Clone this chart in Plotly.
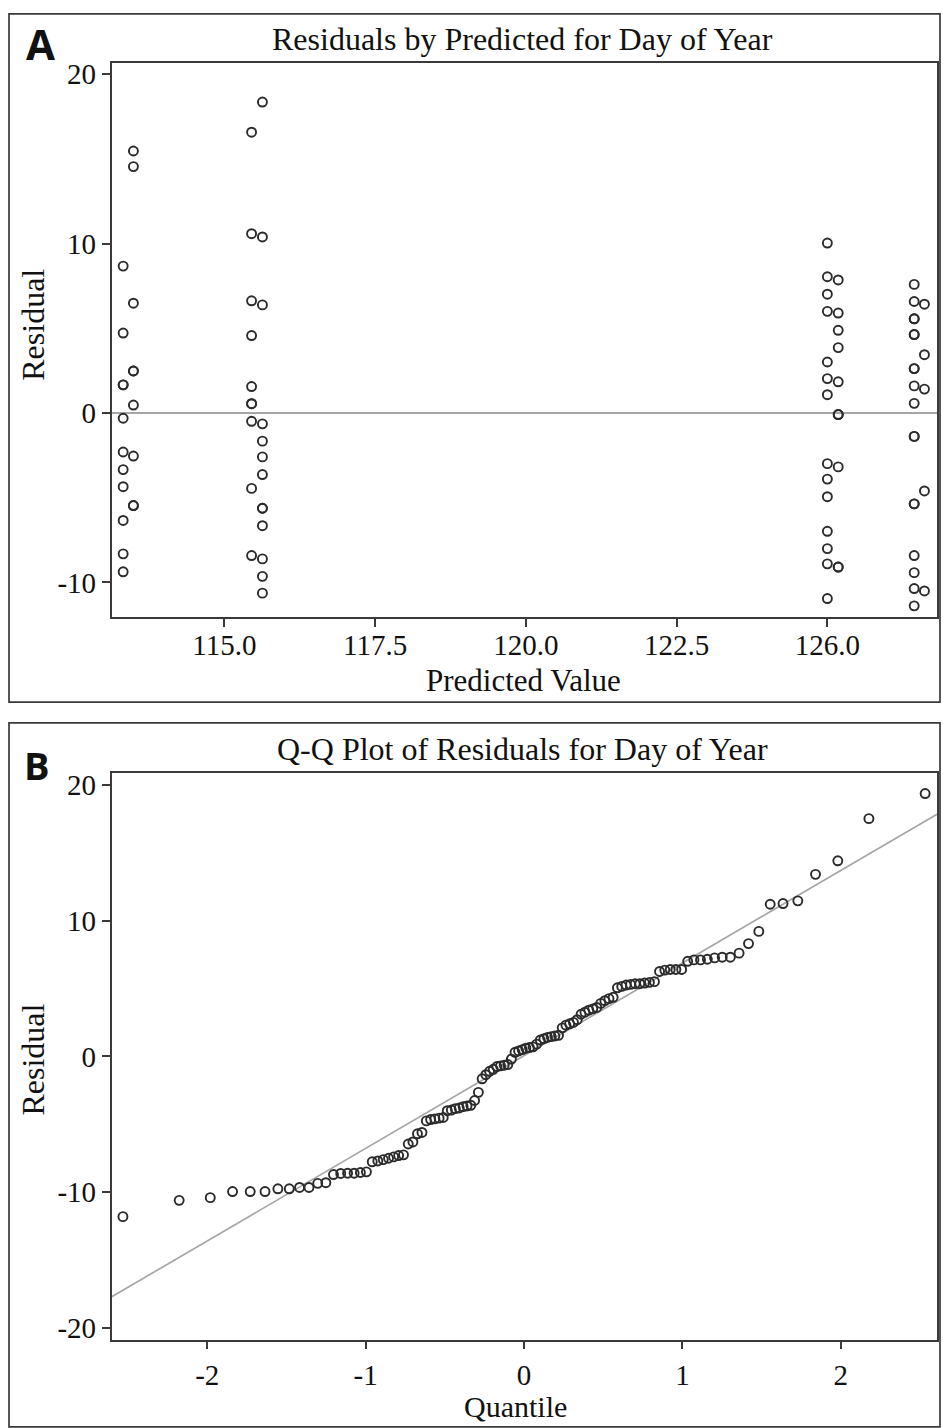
import plotly.graph_objects as go
from statistics import NormalDist

# ---------------- Data ----------------
# Panel A: residuals by predicted value
pred_value = [
    113.49, 113.49, 113.32, 113.49, 113.32, 113.49, 113.49, 113.32, 113.32, 113.49,
    113.32, 113.32, 113.49, 113.32, 113.32, 113.49, 113.49, 113.32, 113.32, 113.32,
    115.63, 115.45, 115.45, 115.63, 115.45, 115.63, 115.45, 115.45, 115.45, 115.45,
    115.45, 115.63, 115.63, 115.63, 115.63, 115.45, 115.63, 115.63, 115.63, 115.45,
    115.63, 115.63, 115.63,
    125.00, 125.00, 125.18, 125.00, 125.00, 125.18, 125.18, 125.18, 125.00, 125.00,
    125.18, 125.00, 125.18, 125.18, 125.00, 125.18, 125.00, 125.00, 125.00, 125.00,
    125.00, 125.18, 125.18, 125.00,
    126.44, 126.44, 126.61, 126.44, 126.44, 126.44, 126.44, 126.61, 126.44, 126.44,
    126.44, 126.61, 126.44, 126.44, 126.44, 126.61, 126.44, 126.44, 126.44, 126.44,
    126.44, 126.61, 126.44,
]
residual = [
    15.46, 14.54, 8.67, 6.48, 4.72, 2.48, 2.48, 1.66, 1.66, 0.47,
    -0.31, -2.30, -2.54, -3.34, -4.35, -5.46, -5.46, -6.34, -8.31, -9.37,
    18.35, 16.57, 10.58, 10.39, 6.62, 6.38, 4.57, 1.56, 0.55, 0.55,
    -0.49, -0.64, -1.66, -2.59, -3.63, -4.45, -5.62, -5.62, -6.65, -8.41,
    -8.61, -9.64, -10.63,
    10.03, 8.04, 7.85, 7.01, 6.00, 5.90, 4.88, 3.86, 3.01, 2.03,
    1.84, 1.08, -0.09, -0.09, -2.99, -3.18, -3.90, -4.94, -6.98, -8.00,
    -8.90, -9.09, -9.09, -10.95,
    7.59, 6.58, 6.42, 5.56, 5.56, 4.63, 4.63, 3.44, 2.62, 2.62,
    1.60, 1.41, 0.57, -1.38, -1.38, -4.60, -5.36, -5.36, -8.41, -9.42,
    -10.36, -10.50, -11.38,
]
a_xtick_vals = [115.0, 117.5, 120.0, 122.5, 125.0]
a_xtick_text = ["115.0", "117.5", "120.0", "122.5", "126.0"]
a_ytick_vals = [-10, 0, 10, 20]
a_ytick_text = ["-10", "0", "10", "20"]

# Panel B: sorted residuals for the Q-Q plot
qq_residual_sorted = [
    -11.8, -10.6, -10.4, -9.95, -9.95, -9.95, -9.75, -9.75, -9.65, -9.65,
    -9.35, -9.3, -8.7, -8.62, -8.6, -8.6, -8.55, -8.5, -7.76, -7.7,
    -7.6, -7.5, -7.4, -7.3, -7.25, -6.45, -6.3, -5.7, -5.6, -4.75,
    -4.65, -4.6, -4.55, -4.5, -4.0, -3.95, -3.85, -3.8, -3.7, -3.65,
    -3.6, -3.25, -2.65, -1.65, -1.35, -1.1, -0.95, -0.75, -0.7, -0.65,
    -0.6, -0.2, 0.3, 0.4, 0.5, 0.6, 0.65, 0.7, 0.9, 1.2,
    1.3, 1.4, 1.45, 1.5, 1.55, 2.1, 2.3, 2.4, 2.5, 2.7,
    3.1, 3.25, 3.4, 3.5, 3.6, 3.9, 4.1, 4.25, 4.35, 5.05,
    5.15, 5.25, 5.3, 5.35, 5.35, 5.4, 5.45, 5.5, 6.25, 6.35,
    6.4, 6.4, 6.4, 7.0, 7.1, 7.1, 7.15, 7.25, 7.3, 7.3,
    7.6, 8.3, 9.2, 11.2, 11.25, 11.45, 13.4, 14.4, 17.5, 19.35,
]
qq_line_mean = 0.05
qq_line_sigma = 6.82
b_xtick_vals = [-2, -1, 0, 1, 2]
b_xtick_text = ["-2", "-1", "0", "1", "2"]
b_ytick_vals = [-20, -10, 0, 10, 20]
b_ytick_text = ["-20", "-10", "0", "10", "20"]

# Theoretical normal quantiles (Blom) for the sorted residuals
n = len(qq_residual_sorted)
nd = NormalDist()
qq_quantile = [nd.inv_cdf((i + 1 - 0.375) / (n + 0.25)) for i in range(n)]

# ---------------- Layout geometry (pixels) ----------------
W, H = 943, 1428
def px(x):
    return x / W
def py(y):
    return 1 - y / H

A_range_x = [113.13, 126.81]
A_range_y = [-12.06, 20.66]
B_range_x = [-2.603, 2.607]
B_range_y = [-20.85, 20.87]

serif = "Liberation Serif, Times New Roman, serif"
frame_col = "#3a3a3a"
mark_col = "#2b2b2b"
ref_col = "#a6a6a6"
tick_font = dict(family=serif, size=29, color="#111")

fig = go.Figure()

marker_style = dict(symbol="circle-open", size=9, color=mark_col,
                    line=dict(width=1.9, color=mark_col))

fig.add_trace(go.Scatter(
    x=pred_value, y=residual, mode="markers", marker=marker_style,
    xaxis="x", yaxis="y", showlegend=False, hoverinfo="skip"))

line_x = [B_range_x[0], B_range_x[1]]
line_y = [qq_line_mean + qq_line_sigma * v for v in line_x]
fig.add_trace(go.Scatter(
    x=line_x, y=line_y, mode="lines", line=dict(color=ref_col, width=1.7),
    xaxis="x2", yaxis="y2", showlegend=False, hoverinfo="skip"))
fig.add_trace(go.Scatter(
    x=qq_quantile, y=qq_residual_sorted, mode="markers", marker=marker_style,
    xaxis="x2", yaxis="y2", showlegend=False, hoverinfo="skip"))

axis_common = dict(showline=True, mirror=True, linecolor=frame_col, linewidth=1.7,
                   ticks="outside", ticklen=8, tickwidth=1.6, tickcolor=frame_col,
                   showgrid=False, tickfont=tick_font, fixedrange=True)

fig.update_layout(
    width=W, height=H, margin=dict(l=0, r=0, t=0, b=0),
    paper_bgcolor="white", plot_bgcolor="white",
    xaxis=dict(domain=[px(111.7), px(936.5)], anchor="y", range=A_range_x,
               tickvals=a_xtick_vals, ticktext=a_xtick_text, zeroline=False,
               ticklabelstandoff=-7, **axis_common),
    yaxis=dict(domain=[py(616.7), py(58.3)], anchor="x", range=A_range_y,
               tickvals=a_ytick_vals, ticktext=a_ytick_text,
               zeroline=True, zerolinecolor=ref_col, zerolinewidth=1.7, **axis_common),
    xaxis2=dict(domain=[px(111.7), px(937)], anchor="y2", range=B_range_x,
                tickvals=b_xtick_vals, ticktext=b_xtick_text, zeroline=False,
                ticklabelstandoff=1, **axis_common),
    yaxis2=dict(domain=[py(1344), py(773.3)], anchor="x2", range=B_range_y,
                tickvals=b_ytick_vals, ticktext=b_ytick_text, zeroline=False, **axis_common),
)

# Outer panel boxes (panel B's box runs past the bottom edge of the picture)
for (x0, y0, x1, y1) in [(9, 9, 940, 702), (9, 723, 940, 1432)]:
    fig.add_shape(type="rect", xref="paper", yref="paper",
                  x0=px(x0), x1=px(x1), y0=py(y1), y1=py(y0),
                  line=dict(color=frame_col, width=1.7), fillcolor="rgba(0,0,0,0)", layer="above")

def ann(text, x, y, size, family=serif, bold=False, angle=0):
    fig.add_annotation(text=f"<b>{text}</b>" if bold else text,
                       x=px(x), y=py(y), xref="paper", yref="paper",
                       xanchor="center", yanchor="middle", showarrow=False,
                       textangle=angle, font=dict(family=family, size=size, color="#111"))

ann("A", 40, 39, 42, family="Open Sans, Arial, sans-serif", bold=True)
ann("B", 37, 765, 38, family="Open Sans, Arial, sans-serif", bold=True)
ann("Residuals by Predicted for Day of Year", 522, 34, 32)
ann("Q-Q Plot of Residuals for Day of Year", 522, 749, 32)
ann("Predicted Value", 523, 680, 31)
ann("Quantile", 515, 1411, 30)
ann("Residual", 33, 322, 32, angle=-90)
ann("Residual", 33, 1062, 32, angle=-90)

fig.write_html("out.html")
